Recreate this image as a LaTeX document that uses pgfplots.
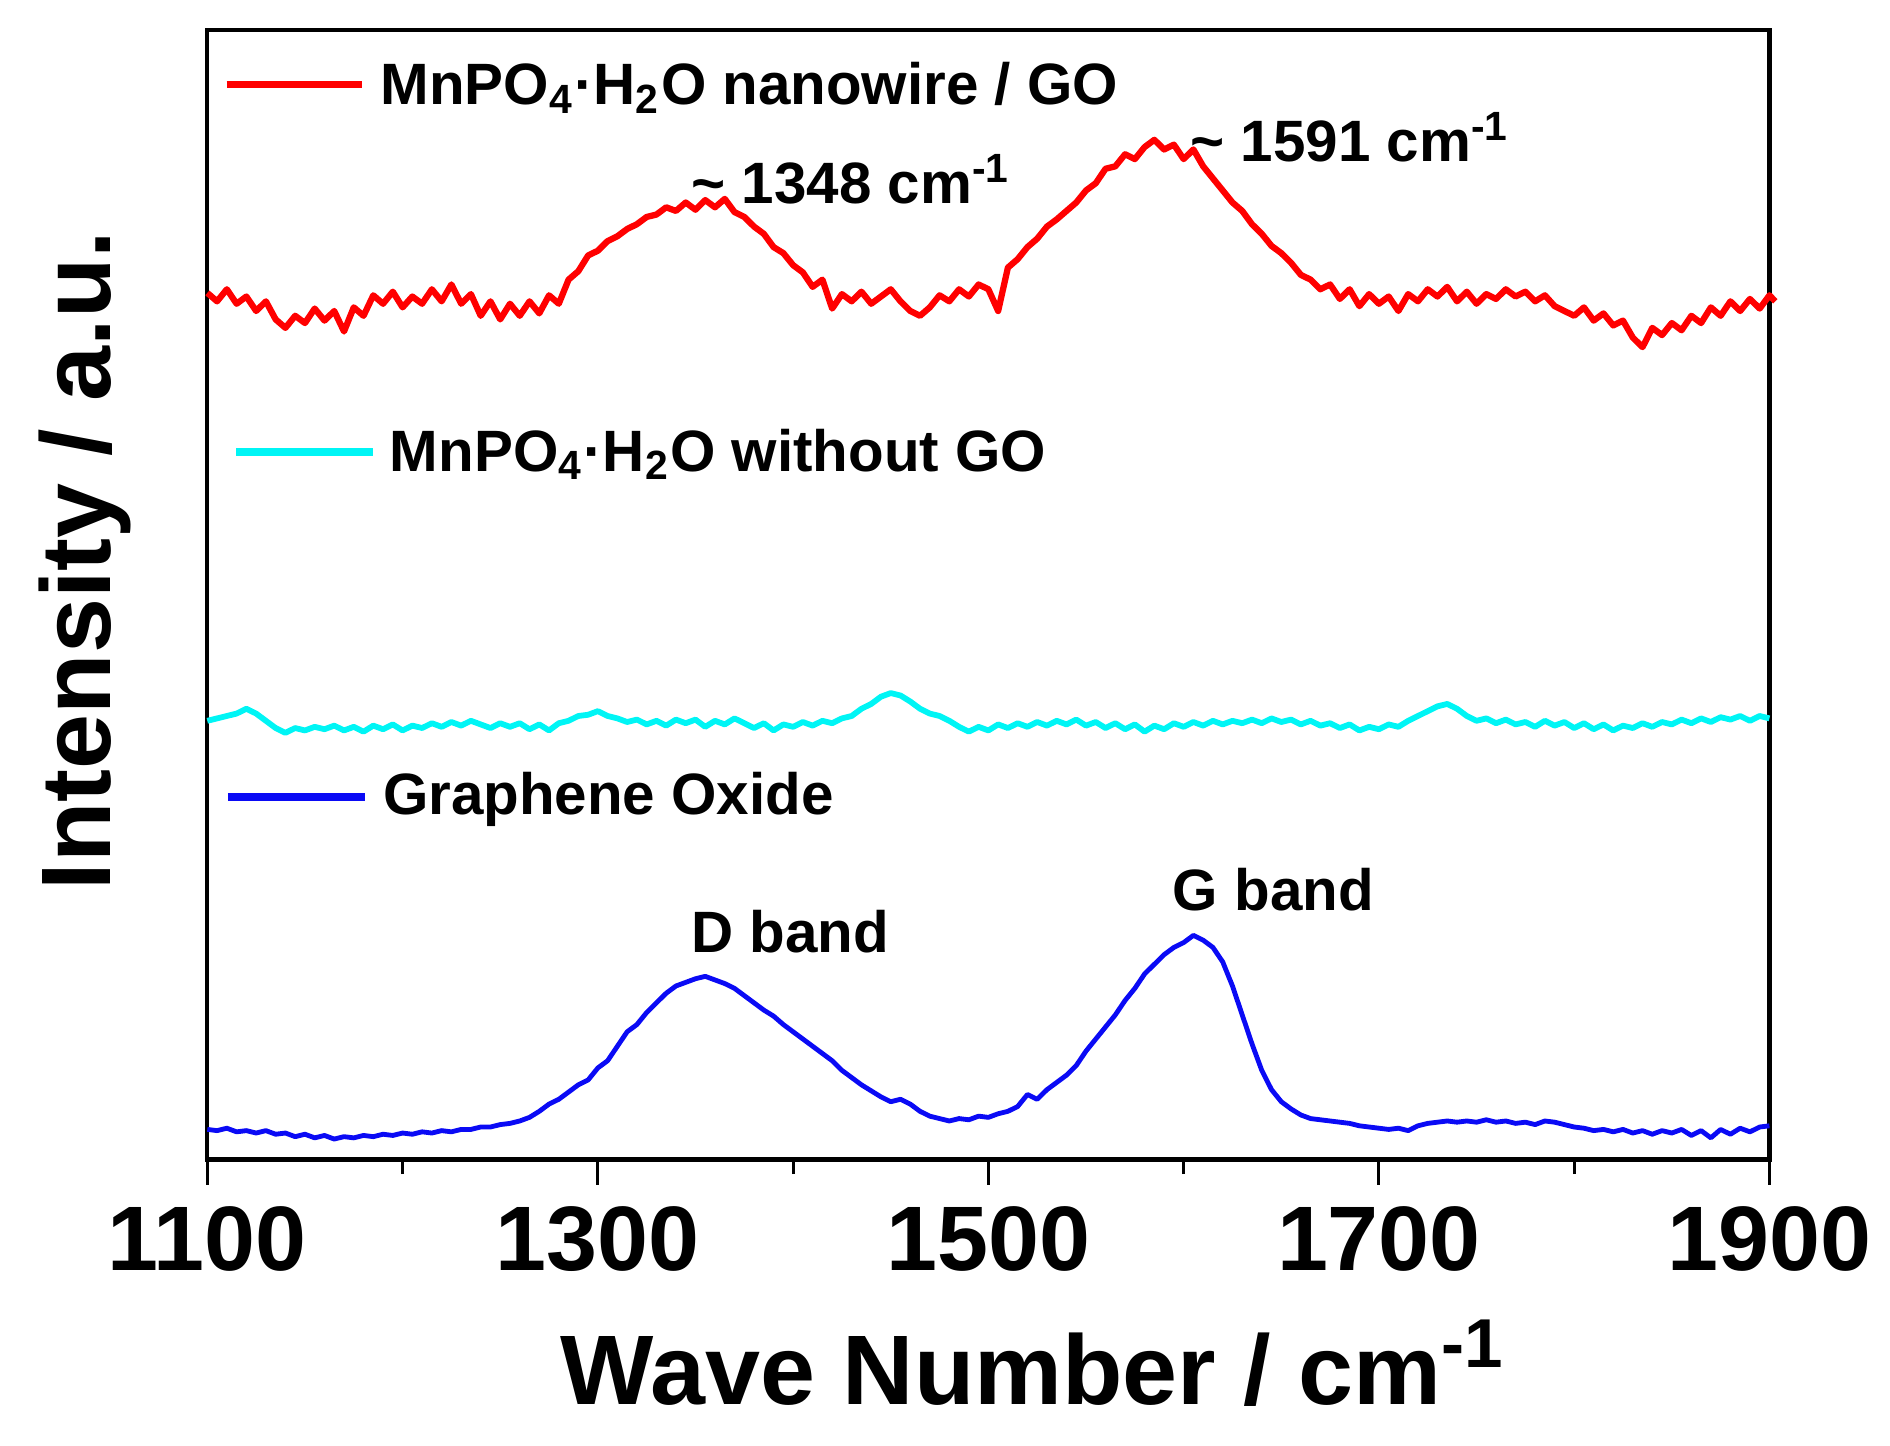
\documentclass[border=0pt]{standalone}
\usepackage{pgfplots}
\pgfplotsset{compat=1.18}
\usepackage{fontspec}
\setmainfont{Liberation Sans}
\definecolor{cRed}{RGB}{255,0,0}
\definecolor{cCyan}{RGB}{0,245,245}
\definecolor{cBlue}{RGB}{10,10,245}
\begin{document}
\begin{tikzpicture}
\begin{axis}[
  scale only axis, width=324pt, height=234.25pt,
  xmin=1100, xmax=1900, ymin=25, ymax=962, y dir=reverse,
  clip=false,
  axis line style={line width=0.9pt},
  xtick={1100,1300,1500,1700,1900},
  minor xtick={1200,1400,1600,1800},
  ytick=\empty,
  xtick pos=bottom, tick align=outside,
  major tick length=5.25pt, minor tick length=3pt,
  every tick/.style={black, line width=0.6pt},
  /pgf/number format/assume math mode=true,
  /pgf/number format/1000 sep={},
  xticklabel style={font=\fontsize{19}{19}\selectfont\bfseries, yshift=-1pt},
  xlabel={Wave Number / cm\textsuperscript{-1}},
  xlabel style={font=\fontsize{20.5}{20.5}\selectfont\bfseries, at={(axis cs:1523,1165)}, anchor=base},
  ylabel={Intensity / a.u.},
  ylabel style={font=\fontsize{20.5}{20.5}\selectfont\bfseries, at={(axis cs:1050.6,465)}, anchor=base, rotate=0},
]
% Graphene oxide
\addplot[cBlue, line width=1.0pt, line join=round] coordinates {
(1100,937)(1105,938)(1110,936)(1115,939)(1120,938)(1125,940)(1130,938)(1135,941)(1140,940)(1145,943)
(1150,941)(1155,944)(1160,942)(1165,945)(1170,943)(1175,944)(1180,942)(1185,943)(1190,941)(1195,942)
(1200,940)(1205,941)(1210,939)(1215,940)(1220,938)(1225,939)(1230,937)(1235,937)(1240,935)(1245,935)
(1250,933)(1255,932)(1260,930)(1265,927)(1270,922)(1275,916)(1280,912)(1285,906)(1290,900)(1295,896)
(1300,886)(1305,880)(1310,868)(1315,856)(1320,850)(1325,840)(1330,832)(1335,824)(1340,818)(1345,815)
(1350,812)(1355,810)(1360,813)(1365,816)(1370,820)(1375,826)(1380,832)(1385,838)(1390,843)(1395,850)
(1400,856)(1405,862)(1410,868)(1415,874)(1420,880)(1425,888)(1430,894)(1435,900)(1440,905)(1445,910)
(1450,914)(1455,912)(1460,916)(1465,922)(1470,926)(1475,928)(1480,930)(1485,928)(1490,929)(1495,926)
(1500,927)(1505,924)(1510,922)(1515,918)(1520,908)(1525,912)(1530,904)(1535,898)(1540,892)(1545,884)
(1550,872)(1555,862)(1560,852)(1565,842)(1570,830)(1575,820)(1580,808)(1585,800)(1590,792)(1595,786)
(1600,782)(1605,776)(1610,780)(1615,786)(1620,798)(1625,818)(1630,842)(1635,866)(1640,888)(1645,904)
(1650,914)(1655,920)(1660,925)(1665,928)(1670,929)(1675,930)(1680,931)(1685,932)(1690,934)(1695,935)
(1700,936)(1705,937)(1710,936)(1715,938)(1720,934)(1725,932)(1730,931)(1735,930)(1740,931)(1745,930)
(1750,931)(1755,929)(1760,931)(1765,930)(1770,932)(1775,931)(1780,933)(1785,930)(1790,931)(1795,933)
(1800,935)(1805,936)(1810,938)(1815,937)(1820,939)(1825,937)(1830,940)(1835,938)(1840,941)(1845,938)
(1850,940)(1855,937)(1860,942)(1865,938)(1870,944)(1875,937)(1880,941)(1885,936)(1890,939)(1895,935)
(1900,934)
};
% MnPO4.H2O without GO
\addplot[cCyan, line width=1.2pt, line join=round] coordinates {
(1100,598)(1105,596)(1110,594)(1115,592)(1120,588)(1125,592)(1130,598)(1135,604)(1140,608)(1145,604)
(1150,606)(1155,603)(1160,605)(1165,602)(1170,606)(1175,603)(1180,607)(1185,602)(1190,605)(1195,601)
(1200,606)(1205,602)(1210,604)(1215,600)(1220,603)(1225,599)(1230,602)(1235,598)(1240,601)(1245,604)
(1250,600)(1255,603)(1260,600)(1265,605)(1270,601)(1275,606)(1280,600)(1285,598)(1290,594)(1295,593)
(1300,590)(1305,594)(1310,596)(1315,599)(1320,597)(1325,601)(1330,598)(1335,602)(1340,597)(1345,600)
(1350,597)(1355,603)(1360,598)(1365,601)(1370,596)(1375,600)(1380,604)(1385,600)(1390,606)(1395,601)
(1400,603)(1405,599)(1410,602)(1415,598)(1420,600)(1425,596)(1430,594)(1435,588)(1440,584)(1445,578)
(1450,575)(1455,577)(1460,582)(1465,588)(1470,592)(1475,594)(1480,598)(1485,603)(1490,607)(1495,603)
(1500,606)(1505,601)(1510,604)(1515,600)(1520,603)(1525,599)(1530,602)(1535,598)(1540,601)(1545,597)
(1550,602)(1555,599)(1560,604)(1565,600)(1570,605)(1575,601)(1580,607)(1585,602)(1590,605)(1595,600)
(1600,603)(1605,599)(1610,602)(1615,598)(1620,601)(1625,598)(1630,600)(1635,597)(1640,600)(1645,596)
(1650,599)(1655,597)(1660,601)(1665,598)(1670,602)(1675,600)(1680,604)(1685,601)(1690,606)(1695,603)
(1700,605)(1705,601)(1710,603)(1715,598)(1720,594)(1725,590)(1730,586)(1735,584)(1740,588)(1745,594)
(1750,598)(1755,596)(1760,600)(1765,597)(1770,601)(1775,599)(1780,603)(1785,598)(1790,602)(1795,599)
(1800,604)(1805,600)(1810,605)(1815,601)(1820,606)(1825,602)(1830,604)(1835,600)(1840,603)(1845,599)
(1850,601)(1855,597)(1860,600)(1865,596)(1870,599)(1875,595)(1880,597)(1885,594)(1890,598)(1895,594)
(1900,596)
};
% MnPO4.H2O nanowire / GO
\addplot[cRed, line width=1.3pt, line join=round] coordinates {
(1100,243)(1105,250)(1110,240)(1115,252)(1120,246)(1125,258)(1130,250)(1135,265)(1140,272)(1145,262)
(1150,268)(1155,256)(1160,266)(1165,258)(1170,275)(1175,255)(1180,262)(1185,245)(1190,252)(1195,242)
(1200,255)(1205,246)(1210,252)(1215,240)(1220,250)(1225,236)(1230,252)(1235,244)(1240,262)(1245,250)
(1250,265)(1255,252)(1260,262)(1265,250)(1270,260)(1275,245)(1280,252)(1285,232)(1290,225)(1295,212)
(1300,208)(1305,200)(1310,196)(1315,190)(1320,186)(1325,180)(1330,178)(1335,172)(1340,175)(1345,168)
(1350,174)(1355,166)(1360,172)(1365,165)(1370,176)(1375,180)(1380,188)(1385,194)(1390,205)(1395,210)
(1400,220)(1405,226)(1410,238)(1415,232)(1420,256)(1425,244)(1430,250)(1435,242)(1440,252)(1445,246)
(1450,240)(1455,250)(1460,258)(1465,262)(1470,255)(1475,245)(1480,250)(1485,240)(1490,246)(1495,236)
(1500,240)(1505,258)(1510,222)(1515,215)(1520,205)(1525,198)(1530,188)(1535,182)(1540,175)(1545,168)
(1550,158)(1555,152)(1560,140)(1565,138)(1570,128)(1575,132)(1580,122)(1585,116)(1590,124)(1595,120)
(1600,132)(1605,124)(1610,138)(1615,148)(1620,158)(1625,168)(1630,175)(1635,186)(1640,194)(1645,204)
(1650,210)(1655,218)(1660,228)(1665,232)(1670,240)(1675,236)(1680,248)(1685,240)(1690,254)(1695,244)
(1700,252)(1705,246)(1710,258)(1715,244)(1720,250)(1725,240)(1730,246)(1735,238)(1740,250)(1745,242)
(1750,252)(1755,244)(1760,248)(1765,240)(1770,246)(1775,242)(1780,250)(1785,245)(1790,254)(1795,258)
(1800,262)(1805,255)(1810,266)(1815,260)(1820,270)(1825,266)(1830,280)(1835,288)(1840,272)(1845,278)
(1850,268)(1855,274)(1860,262)(1865,268)(1870,255)(1875,262)(1880,250)(1885,258)(1890,248)(1895,256)
(1900,245)(1903,250)
};
% legend samples and texts
\draw[cRed, line width=1.6pt] (axis cs:1109.9,70) -- (axis cs:1179,70);
\node[anchor=base west, inner sep=0pt, font=\fontsize{12.1}{12.1}\selectfont\bfseries] at (axis cs:1188.3,87) {MnPO\textsubscript{4}·H\textsubscript{2}O nanowire / GO};
\draw[cCyan, line width=1.6pt] (axis cs:1114.7,375) -- (axis cs:1185,375);
\node[anchor=base west, inner sep=0pt, font=\fontsize{12.1}{12.1}\selectfont\bfseries] at (axis cs:1193,391) {MnPO\textsubscript{4}·H\textsubscript{2}O without GO};
\draw[cBlue, line width=1.6pt] (axis cs:1110.5,661) -- (axis cs:1181,661);
\node[anchor=base west, inner sep=0pt, font=\fontsize{12.1}{12.1}\selectfont\bfseries] at (axis cs:1189.5,676) {Graphene Oxide};
% annotations
\node[anchor=base west, inner sep=0pt, font=\fontsize{12.1}{12.1}\selectfont\bfseries] at (axis cs:1347.5,169) {\textasciitilde{} 1348 cm\textsuperscript{-1}};
\node[anchor=base west, inner sep=0pt, font=\fontsize{12.1}{12.1}\selectfont\bfseries] at (axis cs:1603,134) {\textasciitilde{} 1591 cm\textsuperscript{-1}};
\node[anchor=base west, inner sep=0pt, font=\fontsize{12.1}{12.1}\selectfont\bfseries] at (axis cs:1347.5,790) {D band};
\node[anchor=base west, inner sep=0pt, font=\fontsize{12.1}{12.1}\selectfont\bfseries] at (axis cs:1594,755) {G band};
\end{axis}
\pgfresetboundingbox
\useasboundingbox (-43pt,-59.25pt) rectangle (349pt,240.5pt);
\end{tikzpicture}
\end{document}
